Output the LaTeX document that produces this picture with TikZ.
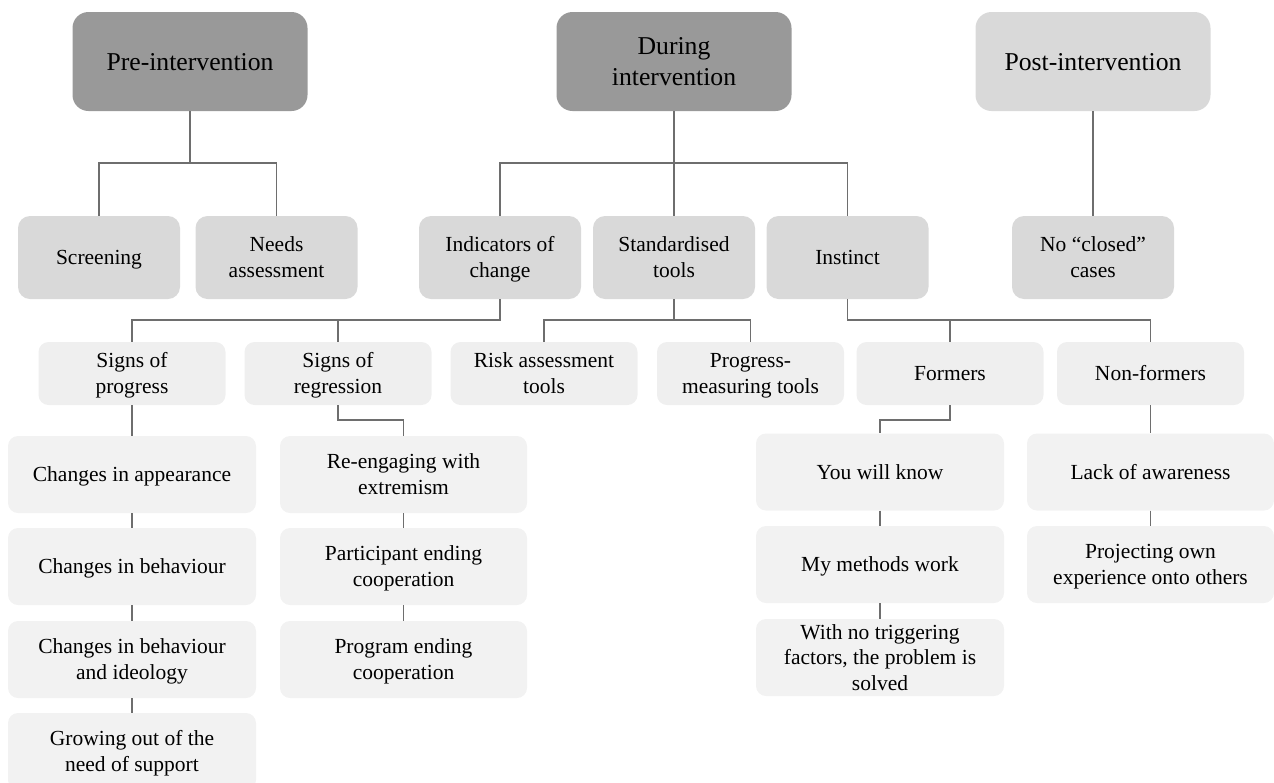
\documentclass[tikz,border=0pt]{standalone}
\usepackage{fontspec}
\setmainfont{Liberation Serif}
\definecolor{darkbox}{HTML}{999999}
\definecolor{midbox}{HTML}{D9D9D9}
\definecolor{lightbox}{HTML}{EFEFEF}
\definecolor{paleboxc}{HTML}{F2F2F2}
\definecolor{linec}{HTML}{6E6E6E}
\begin{document}
\begin{tikzpicture}[x=1pt,y=-1pt,
  base/.style={rounded corners=12pt, inner sep=0pt, align=center, text=black},
  topbox/.style={base, rounded corners=16pt, minimum width=235pt, minimum height=99pt, font=\fontsize{25.7}{31}\selectfont},
  lvlone/.style={base, fill=midbox, minimum width=162pt, minimum height=83pt, font=\fontsize{21.5}{25.5}\selectfont},
  lvltwo/.style={base, rounded corners=10pt, fill=lightbox, minimum width=187pt, minimum height=63pt, font=\fontsize{21.5}{25.5}\selectfont},
  lvlthree/.style={base, rounded corners=10pt, fill=paleboxc, minimum width=248pt, minimum height=77pt, font=\fontsize{21.5}{25.5}\selectfont},
  topone/.style={text height=17pt, text depth=0pt},
  toptwo/.style={text height=48pt, text depth=0pt},
  oneln/.style={text height=14.2pt, text depth=0pt},
  twoln/.style={text height=39.7pt, text depth=0pt},
  threeln/.style={text height=65.2pt, text depth=0pt},
  conn/.style={draw=linec, line width=1.8pt}
]
\useasboundingbox (0,0) rectangle (1274,782);
\begin{scope}
\clip (0,0) rectangle (1274,782);
% level 0
\node[topbox, topone, fill=darkbox] (pre) at (190,61.5) {Pre-intervention};
\node[topbox, toptwo, fill=darkbox] (during) at (674,61.5) {During\\intervention};
\node[topbox, topone, fill=midbox] (post) at (1093,61.5) {Post-intervention};
% level 1
\node[lvlone, oneln] (screen) at (99,257.5) {Screening};
\node[lvlone, twoln] (needs) at (276.5,257.5) {Needs\\assessment};
\node[lvlone, twoln] (indic) at (500,257.5) {Indicators of\\change};
\node[lvlone, twoln] (stand) at (674,257.5) {Standardised\\tools};
\node[lvlone, oneln] (instinct) at (847.5,257.5) {Instinct};
\node[lvlone, twoln] (noclosed) at (1093,257.5) {No “closed”\\cases};
% level 2
\node[lvltwo, twoln] (sprog) at (132,373.5) {Signs of\\progress};
\node[lvltwo, twoln] (sreg) at (338,373.5) {Signs of\\regression};
\node[lvltwo, twoln] (risk) at (544,373.5) {Risk assessment\\tools};
\node[lvltwo, twoln] (progm) at (750.5,373.5) {Progress-\\measuring tools};
\node[lvltwo, oneln] (formers) at (950,373.5) {Formers};
\node[lvltwo, oneln] (nonf) at (1150.5,373.5) {Non-formers};
% level 3
\node[lvlthree, oneln] (ca) at (132,474.5) {Changes in appearance};
\node[lvlthree, oneln] (cb) at (132,566.5) {Changes in behaviour};
\node[lvlthree, twoln] (cbi) at (132,659.5) {Changes in behaviour\\and ideology};
\node[lvlthree, twoln] (grow) at (132,751.5) {Growing out of the\\need of support};
\node[lvlthree, twoln, minimum width=247pt] (reeng) at (403.5,474.5) {Re-engaging with\\extremism};
\node[lvlthree, twoln, minimum width=247pt] (part) at (403.5,566.5) {Participant ending\\cooperation};
\node[lvlthree, twoln, minimum width=247pt] (prog) at (403.5,659.5) {Program ending\\cooperation};
\node[lvlthree, oneln] (know) at (880,472) {You will know};
\node[lvlthree, oneln] (meth) at (880,564.5) {My methods work};
\node[lvlthree, threeln] (trig) at (880,657.5) {With no triggering\\factors, the problem is\\solved};
\node[lvlthree, oneln, minimum width=247pt] (lack) at (1150.5,472) {Lack of awareness};
\node[lvlthree, twoln, minimum width=247pt] (proj) at (1150.5,564.5) {Projecting own\\experience onto others};
% bus coordinates
\coordinate (busone) at (0,163);
\coordinate (bustwo) at (0,320);
\coordinate (busthree) at (0,420);
% connectors
\draw[conn] (pre.south) -- (pre.south |- busone) -| (screen.north);
\draw[conn] (pre.south |- busone) -| (needs.north);
\draw[conn] (during.south) -- (stand.north);
\draw[conn] (during.south |- busone) -| (indic.north);
\draw[conn] (during.south |- busone) -| (instinct.north);
\draw[conn] (post.south) -- (noclosed.north);
\draw[conn] (indic.south) -- (indic.south |- bustwo) -| (sprog.north);
\draw[conn] (indic.south |- bustwo) -| (sreg.north);
\draw[conn] (stand.south) -- (stand.south |- bustwo) -| (risk.north);
\draw[conn] (stand.south |- bustwo) -| (progm.north);
\draw[conn] (instinct.south) -- (instinct.south |- bustwo) -| (formers.north);
\draw[conn] (instinct.south |- bustwo) -| (nonf.north);
\draw[conn] (sprog.south) -- (ca.north);
\draw[conn] (ca.south) -- (cb.north);
\draw[conn] (cb.south) -- (cbi.north);
\draw[conn] (cbi.south) -- (grow.north);
\draw[conn] (sreg.south) -- (sreg.south |- busthree) -| (reeng.north);
\draw[conn] (reeng.south) -- (part.north);
\draw[conn] (part.south) -- (prog.north);
\draw[conn] (formers.south) -- (formers.south |- busthree) -| (know.north);
\draw[conn] (know.south) -- (meth.north);
\draw[conn] (meth.south) -- (trig.north);
\draw[conn] (nonf.south) -- (lack.north);
\draw[conn] (lack.south) -- (proj.north);
\end{scope}
\end{tikzpicture}
\end{document}
